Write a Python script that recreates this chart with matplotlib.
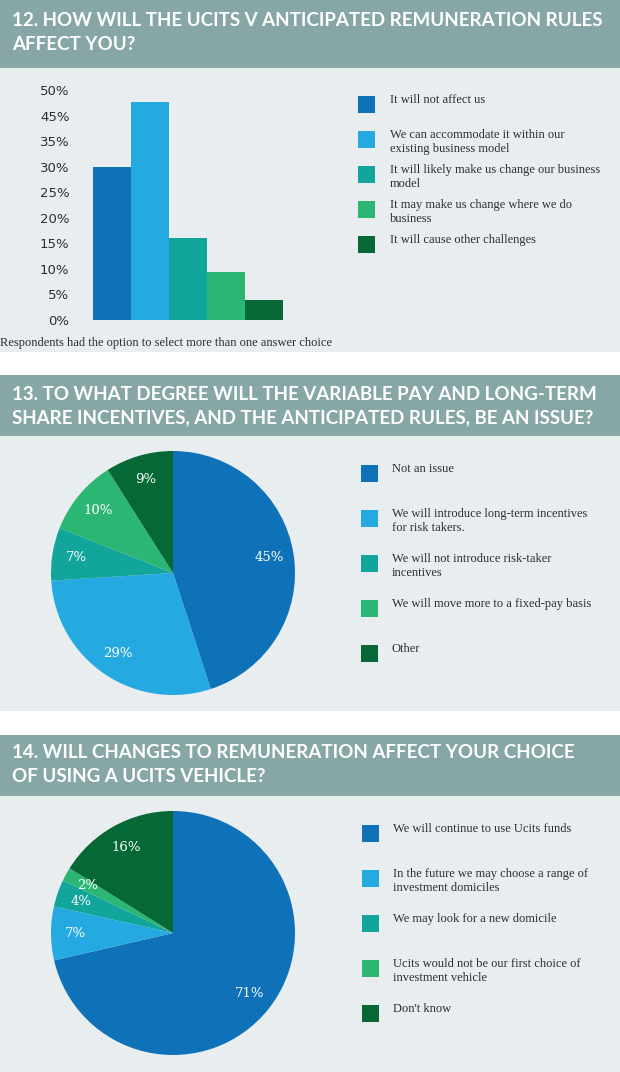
import matplotlib
matplotlib.use("Agg")
import matplotlib.pyplot as plt
from matplotlib.patches import Rectangle

W, H = 620, 1072

# ---- data ----
q12_title = ["12. HOW WILL THE UCITS V ANTICIPATED REMUNERATION RULES",
             "AFFECT YOU?"]
q12_labels = ["It will not affect us",
              "We can accommodate it within our\nexisting business model",
              "It will likely make us change our business\nmodel",
              "It may make us change where we do\nbusiness",
              "It will cause other challenges"]
q12_values = [30.0, 42.6, 16.0, 9.4, 3.9]
q12_ticks = [0, 5, 10, 15, 20, 25, 30, 35, 40, 45]
q12_tick_labels = ["0%", "5%", "10%", "15%", "20%", "25%", "30%", "35%", "45%", "50%"]
q12_note = "Respondents had the option to select more than one answer choice"

q13_title = ["13. TO WHAT DEGREE WILL THE VARIABLE PAY AND LONG-TERM",
             "SHARE INCENTIVES, AND THE ANTICIPATED RULES, BE AN ISSUE?"]
q13_labels = ["Not an issue",
              "We will introduce long-term incentives\nfor risk takers.",
              "We will not introduce risk-taker\nincentives",
              "We will move more to a fixed-pay basis",
              "Other"]
q13_values = [45, 29, 7, 10, 9]

q14_title = ["14. WILL CHANGES TO REMUNERATION AFFECT YOUR CHOICE",
             "OF USING A UCITS VEHICLE?"]
q14_labels = ["We will continue to use Ucits funds",
              "In the future we may choose a range of\ninvestment domiciles",
              "We may look for a new domicile",
              "Ucits would not be our first choice of\ninvestment vehicle",
              "Don't know"]
q14_values = [71.4, 7.1, 3.6, 1.8, 16.1]

colors = ["#0f72b9", "#24a9e1", "#12a59b", "#2cb673", "#066835"]
header_col = "#87a6a6"
panel_col = "#e8edef"
text_col = "#2e2e2e"

fig = plt.figure(figsize=(W / 100, H / 100), dpi=100)
fig.patch.set_facecolor("white")
renderer = fig.canvas.get_renderer()


def fx(x):
    return x / W


def fy(y):
    return 1 - y / H


def band(y0, y1, color):
    fig.add_artist(Rectangle((0, fy(y1)), 1, (y1 - y0) / H, transform=fig.transFigure,
                             facecolor=color, edgecolor="none", zorder=0))


def axes_px(x0, y0, x1, y1):
    return fig.add_axes([fx(x0), fy(y1), (x1 - x0) / W, (y1 - y0) / H])


# backgrounds
band(0, 68, header_col)
band(68, 352, panel_col)
band(375, 436, header_col)
band(436, 711, panel_col)
band(735, 796, header_col)
band(796, 1072, panel_col)

# header font size fitted to the first title line width
hfont = ["Lato", "DejaVu Sans"]
probe = fig.text(0, 0, q12_title[0], fontsize=12, fontweight="bold", family=hfont)
hsize = 12 * 591 / probe.get_window_extent(renderer).width
probe.remove()

for title, ys in [(q12_title, (20, 44)), (q13_title, (395, 418)), (q14_title, (753, 777))]:
    for line, y in zip(title, ys):
        fig.text(fx(12), fy(y), line, fontsize=hsize, fontweight="bold", family=hfont,
                 color="white", va="center", ha="left")

lfont = ["Liberation Serif", "DejaVu Serif"]
lsize = 9.0


def legend(labels, x_sq, x_txt, top0, pitch):
    for i, (lab, c) in enumerate(zip(labels, colors)):
        top = top0 + i * pitch
        fig.add_artist(Rectangle((fx(x_sq), fy(top + 17)), 17 / W, 17 / H,
                                 transform=fig.transFigure, facecolor=c, edgecolor="none"))
        fig.text(fx(x_txt), fy(top - 2), lab, fontsize=lsize, family=lfont, color=text_col,
                 va="top", ha="left", linespacing=1.2)


# ---- Q12 bar chart ----
ax = axes_px(93, 90, 283, 320)
ax.bar(range(len(q12_values)), q12_values, width=1.0, color=colors, edgecolor="none")
ax.set_xlim(-0.5, len(q12_values) - 0.5)
ax.set_ylim(0, 45)
ax.set_yticks(q12_ticks)
ax.set_yticklabels(q12_tick_labels, fontsize=9.5, color=text_col, family="DejaVu Sans")
ax.set_xticks([])
ax.tick_params(axis="y", length=0, pad=17)
for s in ax.spines.values():
    s.set_visible(False)
ax.patch.set_visible(False)
fig.text(fx(0), fy(343), q12_note, fontsize=lsize, family=lfont, color=text_col,
         va="center", ha="left")
legend(q12_labels, 358, 390, 96, 35)

# ---- pies ----
pie_font = dict(color="white", fontsize=9.5, family="DejaVu Serif")


def pie(values, cx, cy, r):
    a = axes_px(cx - r, cy - r, cx + r, cy + r)
    a.pie(values, colors=colors, startangle=90, counterclock=False, autopct="%.0f%%",
          pctdistance=0.8, wedgeprops=dict(linewidth=0), textprops=pie_font)
    a.set_xlim(-1, 1)
    a.set_ylim(-1, 1)
    a.set_aspect("equal")


pie(q13_values, 173, 573, 122)
legend(q13_labels, 361, 392, 465, 45)

pie(q14_values, 173, 933, 122)
legend(q14_labels, 362, 393, 825, 45)

fig.savefig("out.png", dpi=100, facecolor="white")
